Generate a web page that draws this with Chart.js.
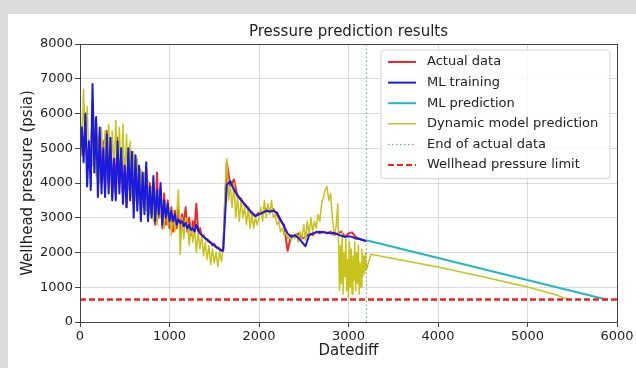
<!DOCTYPE html>
<html>
<head>
<meta charset="utf-8">
<script src="https://cdn.jsdelivr.net/npm/chart.js@4.4.1/dist/chart.umd.min.js"></script>
<style>
    body { margin: 0; background: #dcdcdc; width: 636px; height: 368px; overflow: hidden; position: relative; }
    #panel { position: absolute; left: 8px; top: 14px; width: 628px; height: 354px; background: #ffffff; }
    #myChart { position: absolute; left: 0; top: 0; }
</style>
</head>
<body>
<div id="panel"></div>
<canvas id="myChart" width="636" height="368"></canvas>
<script>
// days since start, shared by the actual data and the ML training fit
const histDays = [
    0, 20, 40, 60, 80, 100, 120, 140, 160, 180,
    200, 220, 240, 260, 280, 300, 320, 340, 360, 380,
    400, 420, 440, 460, 480, 500, 520, 540, 560, 580,
    600, 620, 640, 660, 680, 700, 720, 740, 760, 780,
    800, 820, 840, 860, 880, 900, 920, 940, 960, 980,
    1000, 1020, 1040, 1060, 1080, 1100, 1120, 1140, 1160, 1180,
    1200, 1220, 1240, 1260, 1280, 1300, 1320, 1340, 1360, 1380,
    1400, 1420, 1440, 1460, 1480, 1500, 1520, 1540, 1560, 1580,
    1600,
    1640, 1680, 1720, 1760, 1800, 1840, 1880, 1920, 1960, 2000,
    2040, 2080, 2120, 2160, 2200, 2240, 2280, 2320, 2360, 2400,
    2440, 2480, 2520, 2560, 2600, 2640, 2680, 2720, 2760, 2800,
    2840, 2880, 2920, 2960, 3000, 3040, 3080, 3120, 3160, 3200];

const actualPsi = [
    4900, 5500, 4800, 5800, 4500, 5000, 4300, 6300, 5000, 5700,
    4100, 5400, 4400, 5200, 3800, 5500, 4000, 5200, 3600, 4900,
    3700, 5300, 4000, 4800, 3600, 4700, 3300, 4800, 3800, 4700,
    3400, 4600, 3500, 4400, 3100, 4200, 3400, 4400, 3200, 4000,
    3100, 4000, 2800, 4300, 3000, 3800, 2700, 3700, 2800, 3500,
    2700, 3300, 2600, 3200, 2700, 3300, 2600, 3100, 2800, 3300,
    2600, 3000, 2500, 2900, 2700, 3400, 2600, 2700, 2500, 2500,
    2400, 2350, 2300, 2300, 2200, 2250, 2150, 2150, 2100, 2050,
    2100,
    4600, 3900, 4100, 3600, 3550, 3350, 3300, 3100, 3050, 3150,
    3100, 3250, 3150, 3250, 3100, 2900, 2800, 2050, 2500, 2450,
    2550, 2400, 2450, 2550, 2500, 2600, 2550, 2600, 2550, 2600,
    2500, 2550, 2600, 2450, 2550, 2580, 2450, 2400, 2350, 2330];

const mlTrainPsi = [
    4700, 5600, 4600, 6000, 3900, 5200, 3800, 6850, 4300, 5900,
    3600, 5600, 3700, 5000, 3600, 5400, 3700, 5300, 3500, 4700,
    3500, 5200, 3700, 5000, 3400, 4500, 3300, 5000, 3500, 4900,
    3000, 4800, 3200, 4500, 2900, 4300, 3100, 4600, 2900, 3900,
    3000, 4200, 2900, 3800, 3100, 4000, 2800, 3500, 3000, 3400,
    2900, 3200, 2900, 3100, 2800, 2950, 2850, 2900, 2750, 2850,
    2700, 2800, 2650, 2700, 2600, 2800, 2650, 2550, 2500, 2450,
    2400, 2380, 2330, 2280, 2240, 2200, 2160, 2120, 2090, 2060,
    2050,
    3950, 4050, 3800, 3650, 3500, 3400, 3250, 3150, 3050, 3100,
    3150, 3200, 3180, 3200, 3150, 2950, 2750, 2550, 2450, 2500,
    2420, 2300, 2180, 2500, 2550, 2580, 2600, 2580, 2570, 2550,
    2560, 2520, 2480, 2450, 2470, 2450, 2400, 2390, 2360, 2330];

// dynamic model: history match followed by its forecast
const dynDays = [
    0, 20, 40, 60, 80, 100, 120, 140, 160, 180,
    200, 220, 240, 260, 280, 300, 320, 340, 360, 380,
    400, 420, 440, 460, 480, 500, 520, 540, 560, 580,
    600, 620, 640, 660, 680, 700, 720, 740, 760, 780,
    800, 820, 840, 860, 880, 900, 920, 940, 960, 980,
    1000, 1020, 1040, 1060, 1080, 1100, 1120, 1140, 1160, 1180,
    1200, 1220, 1240, 1260, 1280, 1300, 1320, 1340, 1360, 1380,
    1400, 1420, 1440, 1460, 1480, 1500, 1520, 1540, 1560, 1580,
    1600, 1620, 1640, 1660, 1680, 1700, 1720, 1740, 1760, 1780,
    1800, 1820, 1840, 1860, 1880, 1900, 1920, 1940, 1960, 1980,
    2000, 2020, 2040, 2060, 2080, 2100, 2120, 2140, 2160, 2180,
    2200, 2220, 2240, 2260, 2280, 2300, 2320, 2340, 2360, 2380,
    2400, 2420, 2440, 2460, 2480, 2500, 2520, 2540, 2560, 2580,
    2600, 2620, 2640, 2660, 2680, 2700, 2720, 2740, 2760, 2780,
    2800, 2820, 2840, 2860, 2880,
    2900, 2910, 2920, 2930, 2940, 2950, 2960, 2970, 2980, 2990,
    3000, 3010, 3020, 3030, 3040, 3050, 3060, 3070, 3080, 3090,
    3100, 3110, 3120, 3130, 3140, 3150, 3160, 3170, 3180, 3190,
    3200,
    3250, 3600, 4000, 4500, 5000, 5300, 5450];

const dynPsi = [
    6500, 4800, 6700, 4900, 6200, 4600, 5400, 4500, 5800, 4200,
    5300, 4000, 5600, 4300, 5500, 4400, 5700, 4100, 5500, 4300,
    5800, 4200, 5600, 4000, 5700, 3900, 5400, 3800, 5200, 3600,
    4900, 3500, 4700, 3400, 4400, 3300, 4300, 3200, 4100, 3100,
    3900, 2900, 3800, 2800, 3700, 3000, 3500, 2700, 3400, 2800,
    3300, 2500, 3200, 2600, 3100, 3800, 1950, 3000, 2400, 3000,
    2900, 2200, 2800, 2300, 2700, 2000, 2600, 2100, 2500, 1900,
    2300, 1800, 2200, 1650, 2100, 1700, 2000, 1600, 2050, 1750,
    2100, 3800, 4700, 3500, 3900, 3300, 4000, 3000, 3600, 2900,
    3500, 3000, 3300, 2800, 3300, 2700, 3100, 2700, 3000, 2800,
    3000, 3300, 2900, 3500, 3000, 3400, 3100, 3500, 3000, 3100,
    2800, 2900, 2600, 2700, 2500, 2600, 2400, 2500, 2350, 2500,
    2400, 2550, 2300, 2600, 2400, 2800, 2350, 2900, 2500, 3000,
    2600, 2900, 2700, 3100, 2900, 3400, 3600, 3800, 3900, 3500,
    3700, 3000, 2500, 2700, 3400,
    900, 2200, 1100, 2600, 800, 2000, 1300, 2400, 900, 1800,
    700, 2300, 1000, 2100, 800, 1900, 1200, 2300, 900, 2000,
    1100, 2200, 800, 1700, 1000, 2100, 1300, 1900, 1400, 2000,
    1500,
    1950, 1780, 1580, 1300, 1010, 800, 650];

// ML forecast after the end of actual data
const mlPredDays = [3200, 5880];
const mlPredPsi = [2350, 650];

const endOfActualDay = 3200;
const wellheadLimitPsi = 650;

const xTicks = [0, 1000, 2000, 3000, 4000, 5000, 6000];
const yTicks = [0, 1000, 2000, 3000, 4000, 5000, 6000, 7000, 8000];

function toPoints(xs, ys) {
    return xs.map(function(x, i) { return { x: x, y: ys[i] }; });
}

// axes frame drawn over the lines, like matplotlib spines
const frameBox = {
    id: 'frameBox',
    afterDatasetsDraw(chart) {
        const a = chart.chartArea;
        const ctx = chart.ctx;
        ctx.save();
        ctx.strokeStyle = '#444';
        ctx.lineWidth = 1;
        ctx.strokeRect(a.left + 0.5, a.top + 0.5, a.right - a.left, a.bottom - a.top);
        ctx.restore();
    }
};

// legend box inside the plot, upper right
const legendBox = {
    id: 'legendBox',
    afterDraw(chart) {
        const ctx = chart.ctx;
        const a = chart.chartArea;
        const sets = chart.data.datasets;
        const w = 229, rowH = 20.6;
        const h = sets.length * rowH + 5;
        const x0 = a.right - 7 - w, y0 = a.top + 6, r = 3;
        ctx.save();
        ctx.beginPath();
        ctx.moveTo(x0 + r, y0);
        ctx.arcTo(x0 + w, y0, x0 + w, y0 + h, r);
        ctx.arcTo(x0 + w, y0 + h, x0, y0 + h, r);
        ctx.arcTo(x0, y0 + h, x0, y0, r);
        ctx.arcTo(x0, y0, x0 + w, y0, r);
        ctx.closePath();
        ctx.fillStyle = 'rgba(255,255,255,0.8)';
        ctx.fill();
        ctx.strokeStyle = '#d4d4d4';
        ctx.lineWidth = 1;
        ctx.stroke();

        ctx.font = '13px "DejaVu Sans"';
        ctx.textBaseline = 'middle';
        ctx.fillStyle = '#222';
        sets.forEach(function(ds, i) {
            const yy = y0 + 12 + i * rowH;
            ctx.beginPath();
            ctx.strokeStyle = ds.borderColor;
            ctx.lineWidth = Math.min(ds.borderWidth, 2);
            ctx.setLineDash(ds.borderDash || []);
            ctx.moveTo(x0 + 7, yy);
            ctx.lineTo(x0 + 35, yy);
            ctx.stroke();
            ctx.setLineDash([]);
            ctx.fillText(ds.label, x0 + 46, yy);
        });
        ctx.restore();
    }
};

document.addEventListener('DOMContentLoaded', function() {
    Chart.defaults.font.family = '"DejaVu Sans", sans-serif';
    Chart.defaults.color = '#222';

    const ctx = document.getElementById('myChart');
    new Chart(ctx, {
        type: 'line',
        data: {
            datasets: [{
                label: 'Actual data',
                data: toPoints(histDays, actualPsi),
                borderColor: '#f02828',
                borderWidth: 2,
                order: 4
            }, {
                label: 'ML training',
                data: toPoints(histDays, mlTrainPsi),
                borderColor: '#1a1ae0',
                borderWidth: 2,
                order: 1
            }, {
                label: 'ML prediction',
                data: toPoints(mlPredDays, mlPredPsi),
                borderColor: '#22b8c0',
                borderWidth: 2,
                order: 2
            }, {
                label: 'Dynamic model prediction',
                data: toPoints(dynDays, dynPsi),
                borderColor: '#c6c41c',
                borderWidth: 1.5,
                order: 3
            }, {
                label: 'End of actual data',
                data: [{ x: endOfActualDay, y: 0 }, { x: endOfActualDay, y: 8000 }],
                borderColor: '#5e9e6e',
                borderWidth: 1,
                borderDash: [1.5, 2.5],
                order: 0
            }, {
                label: 'Wellhead pressure limit',
                data: [{ x: 0, y: wellheadLimitPsi }, { x: 6000, y: wellheadLimitPsi }],
                borderColor: '#ee2222',
                borderWidth: 2.5,
                borderDash: [6, 3],
                order: 0
            }]
        },
        options: {
            responsive: false,
            animation: false,
            layout: { padding: { left: 0, right: 19, top: 0, bottom: 0 } },
            elements: {
                point: { radius: 0 },
                line: { tension: 0, borderJoinStyle: 'round' }
            },
            plugins: {
                legend: { display: false },
                tooltip: { enabled: false },
                title: {
                    display: true,
                    text: 'Pressure prediction results',
                    fullSize: false,
                    font: { size: 15, weight: 'normal' },
                    padding: { top: 23, bottom: 3 }
                }
            },
            scales: {
                x: {
                    type: 'linear',
                    min: 0,
                    max: 6000,
                    afterFit: function(scale) { scale.height = 46; },
                    afterBuildTicks: function(scale) {
                        scale.ticks = xTicks.map(function(v) { return { value: v }; });
                    },
                    ticks: {
                        font: { size: 13 },
                        padding: 2,
                        maxRotation: 0,
                        callback: function(v) { return String(v); }
                    },
                    grid: { color: 'rgba(0,0,0,0.14)', tickLength: 5, tickColor: '#444' },
                    border: { color: '#444' },
                    title: {
                        display: true,
                        text: 'Datediff',
                        font: { size: 15 },
                        padding: { top: 0, bottom: 8 }
                    }
                },
                y: {
                    type: 'linear',
                    min: 0,
                    max: 8000,
                    afterFit: function(scale) { scale.width = 80; },
                    afterBuildTicks: function(scale) {
                        scale.ticks = yTicks.map(function(v) { return { value: v }; });
                    },
                    ticks: {
                        font: { size: 13 },
                        padding: 2,
                        callback: function(v) { return String(v); }
                    },
                    grid: { color: 'rgba(0,0,0,0.14)', tickLength: 5, tickColor: '#444' },
                    border: { color: '#444' },
                    title: {
                        display: true,
                        text: 'Wellhead pressure (psia)',
                        font: { size: 15 },
                        padding: { top: 19, bottom: 0 }
                    }
                }
            }
        },
        plugins: [frameBox, legendBox]
    });
});
</script>
</body>
</html>
